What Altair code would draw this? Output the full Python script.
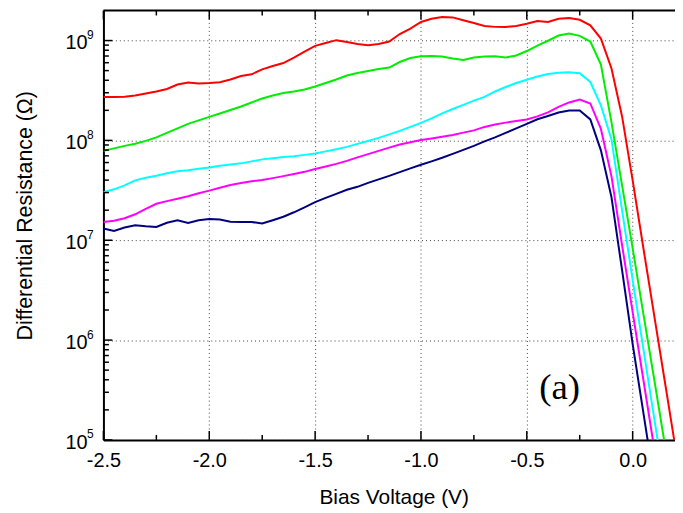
import altair as alt
import pandas as pd

# ---- data (bias in V, log10 of differential resistance in ohm) ----
volts = [-2.5, -2.45, -2.4, -2.35, -2.3, -2.25, -2.2, -2.15, -2.1, -2.05,
         -2.0, -1.95, -1.9, -1.85, -1.8, -1.75, -1.7, -1.65, -1.6, -1.55,
         -1.5, -1.45, -1.4, -1.35, -1.3, -1.25, -1.2, -1.15, -1.1, -1.05,
         -1.0, -0.95, -0.9, -0.85, -0.8, -0.75, -0.7, -0.65, -0.6, -0.55,
         -0.5, -0.45, -0.4, -0.35, -0.3, -0.25, -0.2, -0.15, -0.1, -0.05,
         0.0, 0.05, 0.1, 0.15, 0.2]

red_log = [8.434, 8.434, 8.437, 8.45, 8.47, 8.49, 8.515, 8.56, 8.58, 8.57,
           8.575, 8.583, 8.61, 8.645, 8.662, 8.712, 8.745, 8.775, 8.83, 8.89,
           8.947, 8.975, 9.004, 8.985, 8.965, 8.954, 8.965, 8.99, 9.065, 9.12,
           9.186, 9.218, 9.235, 9.232, 9.203, 9.175, 9.146, 9.137, 9.136, 9.146,
           9.169, 9.196, 9.186, 9.218, 9.225, 9.208, 9.153, 9.02, 8.72, 8.24,
           7.6, 6.93, 6.27, 5.61, 4.95]
green_log = [7.895, 7.92, 7.945, 7.967, 7.995, 8.03, 8.075, 8.12, 8.165, 8.2,
             8.235, 8.27, 8.305, 8.34, 8.38, 8.42, 8.45, 8.475, 8.49, 8.51,
             8.54, 8.575, 8.61, 8.65, 8.675, 8.696, 8.715, 8.729, 8.785, 8.825,
             8.842, 8.845, 8.84, 8.82, 8.805, 8.83, 8.84, 8.843, 8.83, 8.85,
             8.895, 8.95, 8.998, 9.05, 9.07, 9.047, 8.99, 8.76, 8.18, 7.55,
             6.92, 6.27, 5.63, 4.98]
cyan_log = [7.481, 7.51, 7.55, 7.60, 7.625, 7.646, 7.67, 7.69, 7.70, 7.715,
            7.729, 7.745, 7.758, 7.77, 7.79, 7.81, 7.822, 7.833, 7.842, 7.855,
            7.868, 7.89, 7.912, 7.935, 7.965, 7.994, 8.025, 8.06, 8.095, 8.135,
            8.176, 8.22, 8.27, 8.314, 8.356, 8.398, 8.435, 8.49, 8.535, 8.575,
            8.607, 8.64, 8.665, 8.678, 8.682, 8.672, 8.585, 8.35, 8.01, 7.3,
            6.6, 5.92, 5.24, 4.57]
magenta_log = [7.183, 7.195, 7.22, 7.26, 7.315, 7.365, 7.392, 7.415, 7.44, 7.47,
               7.497, 7.525, 7.553, 7.573, 7.59, 7.603, 7.622, 7.642, 7.664, 7.685,
               7.713, 7.738, 7.765, 7.795, 7.83, 7.862, 7.895, 7.928, 7.958, 7.982,
               8.004, 8.02, 8.037, 8.055, 8.078, 8.10, 8.135, 8.16, 8.178, 8.195,
               8.21, 8.24, 8.28, 8.335, 8.38, 8.408, 8.37, 8.115, 7.64, 6.95,
               6.28, 5.61, 4.94]
navy_log = [7.117, 7.093, 7.127, 7.15, 7.14, 7.133, 7.175, 7.2, 7.173, 7.2,
            7.213, 7.207, 7.185, 7.183, 7.183, 7.167, 7.2, 7.235, 7.28, 7.33,
            7.381, 7.425, 7.465, 7.505, 7.535, 7.574, 7.61, 7.645, 7.682, 7.72,
            7.756, 7.79, 7.826, 7.865, 7.905, 7.945, 7.99, 8.03, 8.075, 8.12,
            8.165, 8.212, 8.245, 8.28, 8.299, 8.299, 8.21, 7.9, 7.43, 6.7,
            5.96, 5.28, 4.6]

series_names = ["red", "green", "cyan", "magenta", "navy"]
series_colors = ["#ff0000", "#00ee00", "#00ffff", "#ff00ff", "#000080"]
series_values = [red_log, green_log, cyan_log, magenta_log, navy_log]

x_major = [-2.5, -2.0, -1.5, -1.0, -0.5, 0.0]
x_minor = [-2.25, -1.75, -1.25, -0.75, -0.25]
y_exponents = ["5", "6", "7", "8", "9"]
y_major = [1e5, 1e6, 1e7, 1e8, 1e9]
y_minor = [m * d for d in [1e5, 1e6, 1e7, 1e8] for m in [2, 3, 4, 5, 6, 7, 8, 9]]

annot_text = ["(a)"]
annot_x = [-0.345]
annot_y = [2.58e5]

# ---- tables ----
rows = []
for name, vals in zip(series_names, series_values):
    for v, lg in zip(volts, vals):
        rows.append({"V": v, "R": 10 ** lg, "series": name})
df = pd.DataFrame(rows)

W, H = 575, 432
FONT = "Arial, Liberation Sans, sans-serif"

xscale = alt.Scale(domain=[-2.5, 0.2], nice=False, zero=False)
yscale = alt.Scale(type="log", domain=[1e5, 2e9], nice=False)

xaxis = alt.Axis(
    values=x_major, labelExpr="replace(format(datum.value, '.1f'), '\u2212', '-')",
    labelFont=FONT, labelFontSize=20, labelColor="black", labelBaseline="alphabetic",
    labelPadding=27, labelFlush=False, labelOverlap=False, ticks=False,
    domain=True, domainColor="black", domainWidth=2,
    grid=True, gridDash=[1, 3], gridColor="#444", gridWidth=1, gridOpacity=1,
    title="Bias Voltage (V)", titleFont=FONT, titleFontSize=21, titleFontWeight="normal",
    titleColor="black", titleX=292, titleY=64, titleBaseline="alphabetic", titleAlign="center")
yaxis = alt.Axis(
    values=y_major, labels=False, ticks=False,
    domain=True, domainColor="black", domainWidth=2,
    grid=True, gridDash=[1, 3], gridColor="#444", gridWidth=1, gridOpacity=1,
    title="Differential Resistance (\u03a9)", titleFont=FONT, titleFontSize=21.5,
    titleFontWeight="normal", titleColor="black", titleAngle=270,
    titleX=-72, titleY=206, titleBaseline="alphabetic", titleAlign="center")

X = alt.X("V:Q", scale=xscale, axis=xaxis)
Y = alt.Y("R:Q", scale=yscale, axis=yaxis)

lines = alt.Chart(df).mark_line(strokeWidth=2, clip=True).encode(
    x=X, y=Y,
    color=alt.Color("series:N", scale=alt.Scale(domain=series_names, range=series_colors), legend=None),
    order=alt.Order("V:Q"),
)

xmaj_df = pd.DataFrame({"V": x_major})
xmin_df = pd.DataFrame({"V": x_minor})
ymaj_df = pd.DataFrame({"R": y_major})
ymin_df = pd.DataFrame({"R": y_minor})


def xtick(data, y1, y2):
    return alt.Chart(data).mark_rule(color="black", strokeWidth=1.5).encode(
        x=X, y=alt.value(y1), y2=alt.value(y2))


def ytick(data, length):
    return alt.Chart(data).mark_rule(color="black", strokeWidth=1.5).encode(
        y=Y, x=alt.value(0), x2=alt.value(length))


ticks = [
    xtick(xmaj_df, H, H - 9), xtick(xmin_df, H, H - 5),
    xtick(xmaj_df, 0, 9), xtick(xmin_df, 0, 5),
    ytick(ymaj_df, 9), ytick(ymin_df, 5.5),
]

border = alt.Chart(pd.DataFrame({"a": [0]})).mark_rule(color="black", strokeWidth=2).encode(
    x=alt.value(0), x2=alt.value(W), y=alt.value(0))

exp_df = pd.DataFrame({"R": y_major, "exp": y_exponents})
ten = alt.Chart(exp_df).mark_text(align="right", baseline="alphabetic", dy=9, fontSize=20,
                                  font=FONT, color="black").encode(
    x=alt.value(-16), y=Y, text=alt.value("10"))
sup = alt.Chart(exp_df).mark_text(align="left", baseline="alphabetic", dy=-1.5, fontSize=12,
                                  font=FONT, color="black").encode(
    x=alt.value(-16.5), y=Y, text="exp:N")

ann_df = pd.DataFrame({"V": annot_x, "R": annot_y, "t": annot_text})
ann = alt.Chart(ann_df).mark_text(align="center", baseline="alphabetic", fontSize=37,
                                  font="Times New Roman, Liberation Serif, serif", color="black").encode(
    x=X, y=Y, text="t:N")

chart = alt.layer(lines, *ticks, border, ten, sup, ann).properties(
    width=W, height=H, autosize="none",
    padding={"left": 96, "top": 1, "right": 0, "bottom": 70},
    background="white",
).configure_view(stroke=None)

chart.save("out.html", embed_options={"renderer": "svg", "actions": False})
